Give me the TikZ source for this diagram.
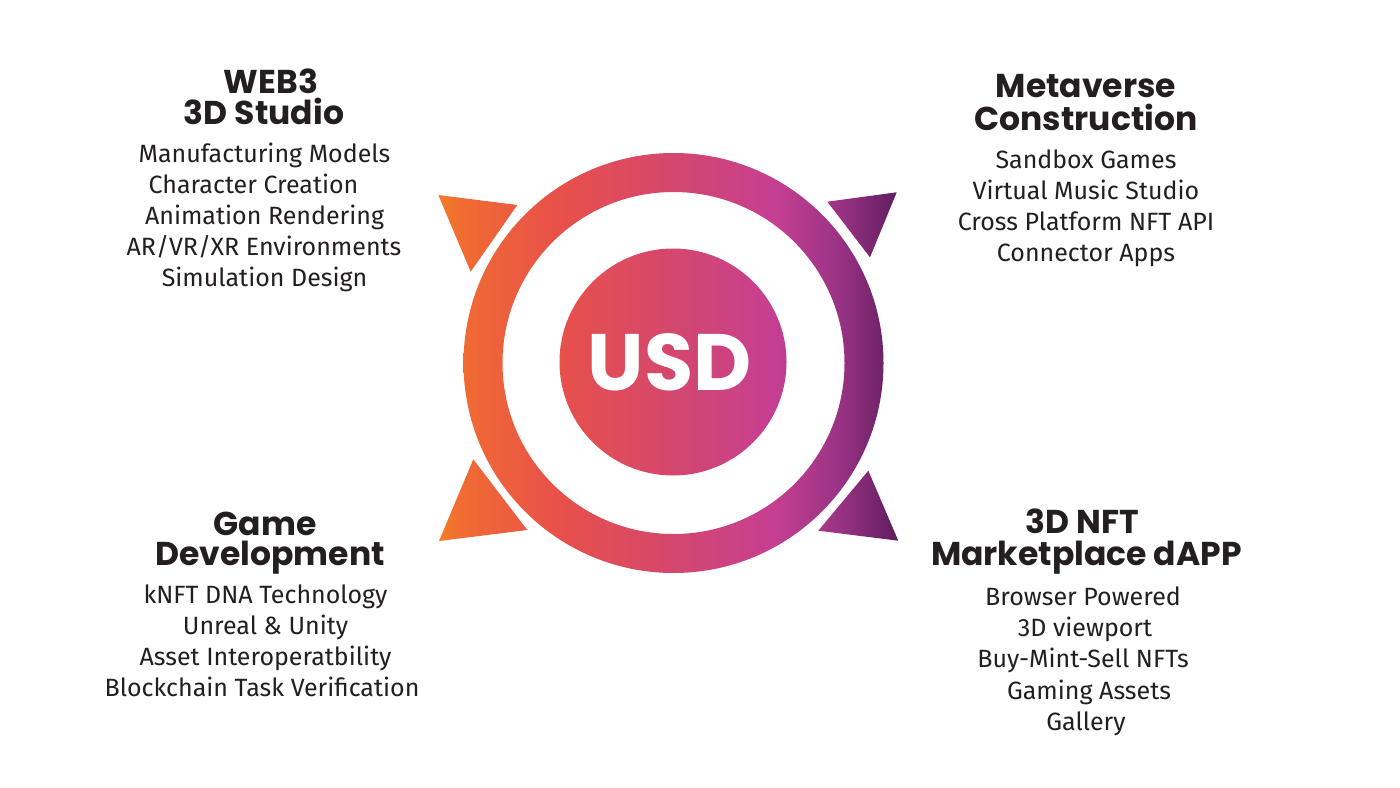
\documentclass[tikz,border=0pt]{standalone}
\usepackage{fontspec}
\setmainfont{Fira Sans}
\newfontfamily\popfont{Poppins}
\definecolor{txt}{HTML}{231F20}
\definecolor{ga}{HTML}{F47B2A}
\definecolor{gb}{HTML}{F06B32}
\definecolor{gc}{HTML}{E8504A}
\definecolor{gd}{HTML}{D4476E}
\definecolor{ge}{HTML}{C63F92}
\definecolor{gf}{HTML}{9A3384}
\definecolor{gg}{HTML}{5F1D5E}
\pgfdeclarehorizontalshading{usdgrad}{100bp}{color(0bp)=(ga); color(25bp)=(ga); color(27.7bp)=(gb); color(38bp)=(gc); color(50.5bp)=(gd); color(61.4bp)=(ge); color(68.5bp)=(gf); color(75bp)=(gg); color(100bp)=(gg)}
\tikzset{
  head/.style={anchor=base, inner sep=0pt, text=txt, font=\popfont\bfseries\fontsize{33}{35}\selectfont},
  item/.style={anchor=base, inner sep=0pt, text=txt, font=\fontsize{25}{30}\selectfont},
  usdtext/.style={anchor=base, inner sep=0pt, text=white, font=\popfont\bfseries\fontsize{80}{90}\selectfont},
  gradfill/.style={shading=usdgrad}
}
\begin{document}
\begin{tikzpicture}[x=1pt,y=-1pt]
\useasboundingbox[fill=white] (0,0) rectangle (1400,787);
\coordinate (c) at (673.5,363);
\coordinate (cd) at (673,362);
% triangles
\begin{scope}
\clip (438.3,195) -- (517.3,205) -- (470.7,271.7) -- cycle
      (896.7,192.3) -- (827.3,201.7) -- (870,257.3) -- cycle
      (439,541) -- (473.3,459.3) -- (527.3,530) -- cycle
      (898.3,540.7) -- (868.3,470.7) -- (818.3,530.7) -- cycle;
\shade[gradfill] (438,150) rectangle (898.3,580);
\end{scope}
% ring and disk
\begin{scope}[even odd rule]
\clip (c) circle[radius=210pt] (c) circle[radius=171pt] (cd) circle[radius=113.5pt];
\shade[gradfill] (438,150) rectangle (898.3,580);
\end{scope}
\node[usdtext] (usd) at (669.5,390.7) {USD};
% top left
\node[head] (tl1) at (271,93) {WEB3};
\node[head] (tl2) at (264,124) {3D Studio};
\node[item] (tl3) at (264.5,162) {Manufacturing Models};
\node[item] (tl4) at (253.5,193) {Character Creation};
\node[item] (tl5) at (264.5,224) {Animation Rendering};
\node[item] (tl6) at (264,255) {AR/VR/XR Environments};
\node[item] (tl7) at (264.5,286) {Simulation Design};
% top right
\node[head] (tr1) at (1086,97) {Metaverse};
\node[head] (tr2) at (1086,130) {Construction};
\node[item] (tr3) at (1086,168) {Sandbox Games};
\node[item] (tr4) at (1086,199) {Virtual Music Studio};
\node[item] (tr5) at (1086,230) {Cross Platform NFT API};
\node[item] (tr6) at (1086,261) {Connector Apps};
% bottom left
\node[head] (bl1) at (265,535) {Game};
\node[head] (bl2) at (270,565) {Development};
\node[item] (bl3) at (265.5,603) {kNFT DNA Technology};
\node[item] (bl4) at (265.5,634) {Unreal \& Unity};
\node[item] (bl5) at (265.5,665) {Asset Interoperatbility};
\node[item] (bl6) at (262,696) {Blockchain Task Verification};
% bottom right
\node[head] (br1) at (1082,533) {3D NFT};
\node[head] (br2) at (1086.5,565) {Marketplace dAPP};
\node[item] (br3) at (1083,605) {Browser Powered};
\node[item] (br4) at (1085,636) {3D viewport};
\node[item] (br5) at (1083,667) {Buy-Mint-Sell NFTs};
\node[item] (br6) at (1089,699) {Gaming Assets};
\node[item] (br7) at (1086,730) {Gallery};
\end{tikzpicture}
\end{document}
